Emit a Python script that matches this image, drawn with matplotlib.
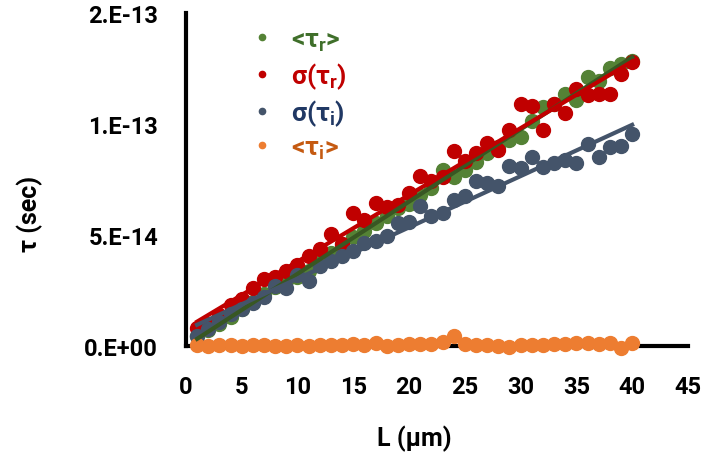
import numpy as np
import matplotlib
matplotlib.use("Agg")
import matplotlib.pyplot as plt

plt.rcParams['font.family'] = ['Roboto', 'DejaVu Sans']
plt.rcParams['font.weight'] = 'bold'
plt.rcParams['mathtext.default'] = 'regular'

L = list(range(1, 41))

# values in units of 1e-14 s
tau_r_mean = [0.45, 0.7, 1.0, 1.3, 1.65, 2.0, 2.35, 2.65, 2.95, 3.1,
              3.4, 3.85, 4.2, 4.6, 4.9, 5.2, 5.55, 5.85, 6.2, 6.4,
              6.8, 7.1, 7.95, 7.6, 7.95, 8.3, 8.7, 8.95, 9.3, 9.4,
              10.15, 10.75, 10.9, 11.35, 11.1, 12.1, 11.95, 12.55, 12.7, 12.85]
tau_r_sigma = [0.8, 1.0, 1.4, 1.85, 2.1, 2.6, 3.0, 3.1, 3.4, 3.65,
               4.05, 4.35, 5.05, 4.6, 6.0, 5.7, 6.45, 6.25, 6.35, 6.9,
               7.65, 7.45, 7.6, 8.8, 8.35, 8.7, 9.15, 8.85, 9.75, 10.9,
               10.8, 9.75, 10.9, 10.5, 11.6, 11.3, 11.35, 11.35, 12.25, 12.8]
tau_i_sigma = [0.45, 0.75, 1.1, 1.45, 1.65, 1.95, 2.2, 2.7, 2.6, 3.2,
               2.95, 3.6, 3.85, 4.05, 4.3, 4.65, 4.75, 4.95, 5.55, 5.6,
               6.3, 5.85, 6.0, 6.6, 6.75, 7.45, 7.35, 7.2, 8.1, 8.0,
               8.5, 8.05, 8.25, 8.4, 8.25, 9.1, 8.5, 8.95, 9.0, 9.55]
tau_i_mean = [0.05, 0.0, 0.05, 0.05, 0.0, 0.05, 0.05, 0.0, 0.0, 0.05,
              0.0, 0.05, 0.05, 0.05, 0.1, 0.05, 0.15, 0.0, 0.05, 0.1,
              0.1, 0.1, 0.2, 0.45, 0.1, 0.05, 0.05, 0.0, -0.05, 0.05,
              0.05, 0.05, 0.1, 0.1, 0.15, 0.15, 0.1, 0.15, -0.1, 0.15]

labels = ["<τ$_r$>", "σ(τ$_r$)", "σ(τ$_i$)", "<τ$_i$>"]
point_colors = ["#548235", "#C00000", "#44546A", "#ED7D31"]
text_colors = ["#3F6F2A", "#C00000", "#203864", "#C55A11"]
line_colors = ["#385723", "#C00000", "#44546A", None]

yticks = [0, 5e-14, 1e-13, 1.5e-13]
ytick_labels = ["0.E+00", "5.E-14", "1.E-13", "2.E-13"]
xticks = list(range(0, 50, 5))

series = [tau_r_mean, tau_r_sigma, tau_i_sigma, tau_i_mean]

fig = plt.figure(figsize=(7.07, 4.56), dpi=100)
ax = fig.add_axes([0.263, 0.239, 0.710, 0.730])

x = np.array(L)
handles = []
for vals, c, lab in zip(series, point_colors, labels):
    y = np.array(vals) * 1e-14
    h, = ax.plot(x, y, 'o', ms=10, color=c, label=lab, clip_on=False, zorder=3)
    handles.append(h)

# linear trendlines
for vals, lc in zip(series, line_colors):
    if lc is None:
        continue
    y = np.array(vals) * 1e-14
    p = np.polyfit(x, y, 1)
    xx = np.array([L[0], L[-1]])
    ax.plot(xx, np.polyval(p, xx), '-', color=lc, lw=3, zorder=4)

ax.set_xlim(0, 45)
ax.set_ylim(0, 1.5e-13)
ax.set_xticks(xticks)
ax.set_yticks(yticks)
ax.set_yticklabels(ytick_labels)
ax.tick_params(length=0, labelsize=17)
ax.tick_params(axis='y', pad=20)
ax.tick_params(axis='x', pad=21)
for t in ax.get_xticklabels() + ax.get_yticklabels():
    t.set_fontweight('bold')

for s in ['top', 'right']:
    ax.spines[s].set_visible(False)
for s in ['left', 'bottom']:
    ax.spines[s].set_linewidth(3)
    ax.spines[s].set_zorder(2.5)

ax.set_xlabel("L (µm)", fontsize=18, fontweight='bold')
ax.set_ylabel("τ (sec)", fontsize=18, fontweight='bold')
ax.xaxis.set_label_coords(0.454, -0.235)
ax.yaxis.set_label_coords(-0.285, 0.40)

leg = fig.legend(handles=handles, loc='upper left', bbox_to_anchor=(0.355, 0.937),
                 frameon=False, markerscale=0.45, handlelength=0.8, handletextpad=0.7,
                 borderpad=0, borderaxespad=0,
                 labelspacing=0.27, prop={'size': 19, 'weight': 'bold'})
for t, c in zip(leg.get_texts(), text_colors):
    t.set_color(c)

fig.savefig("out.png", dpi=100)
